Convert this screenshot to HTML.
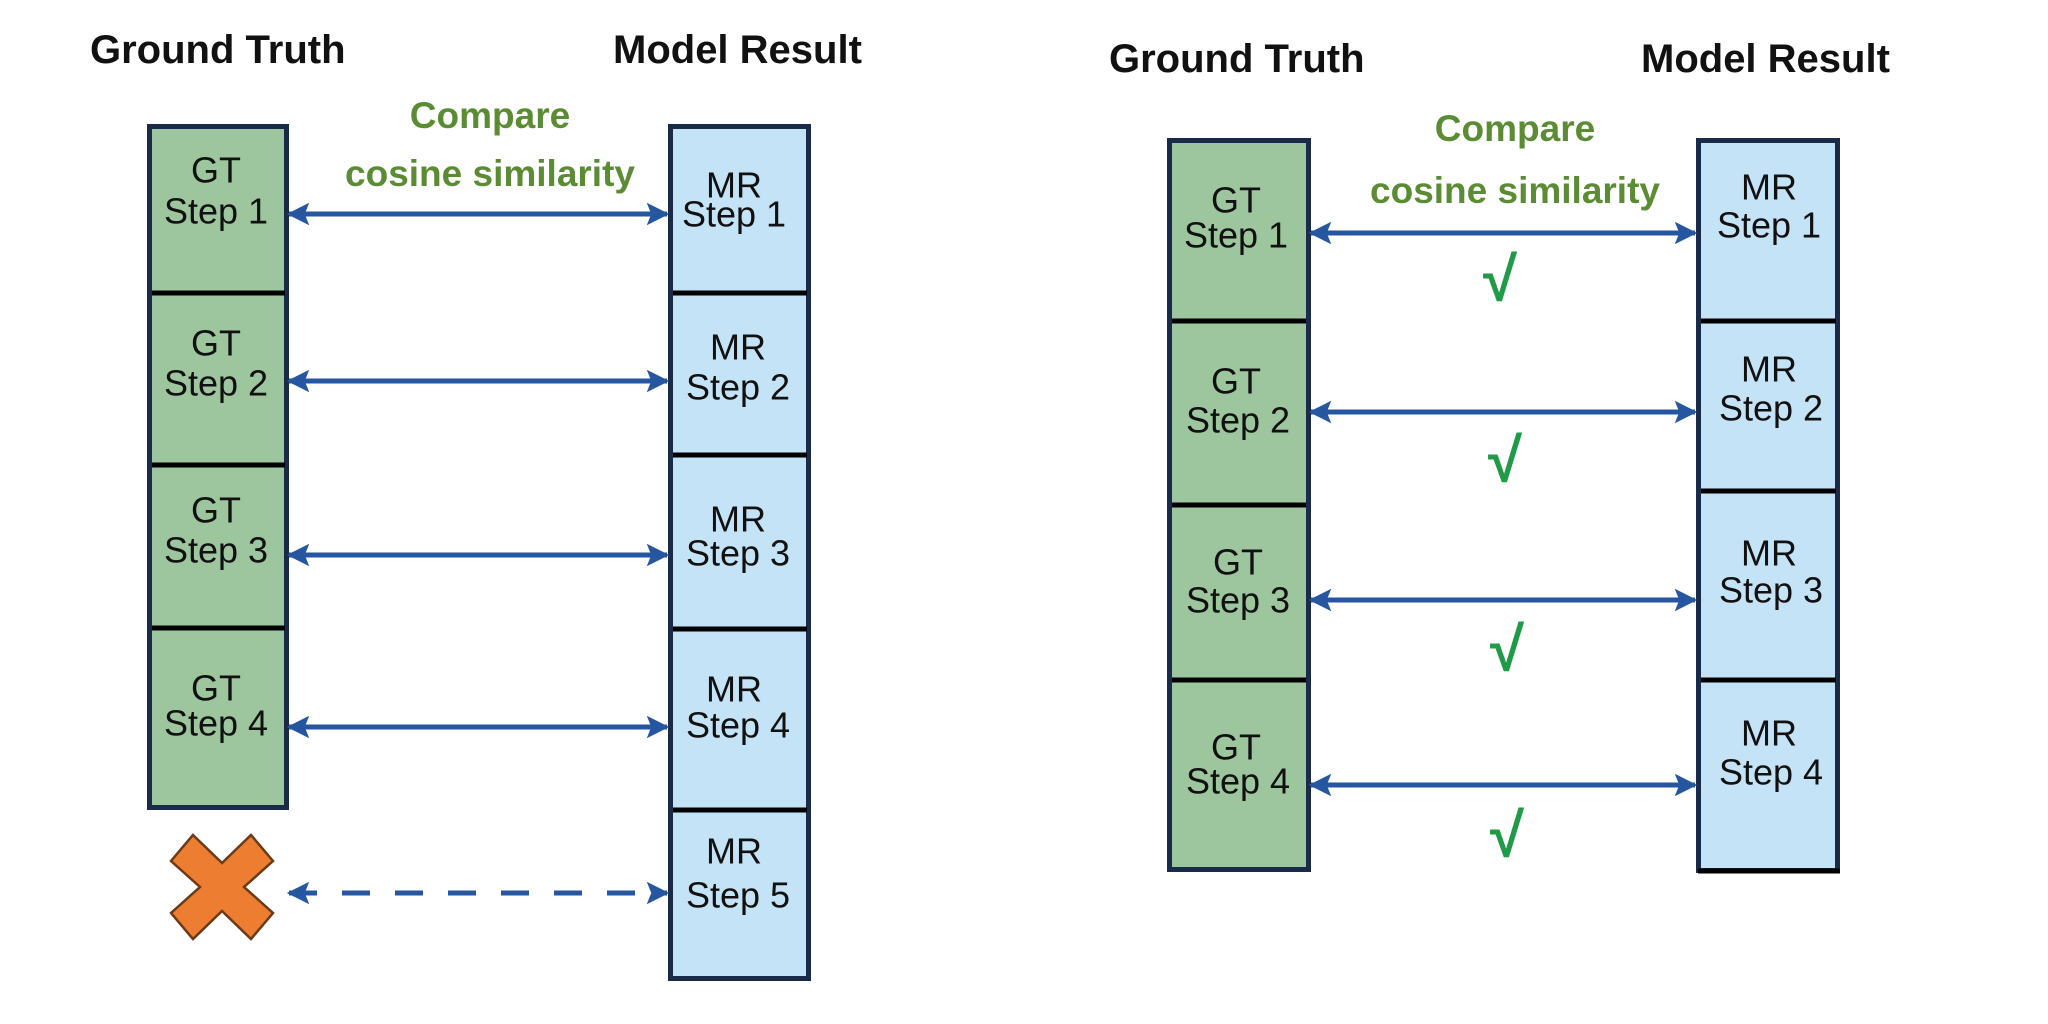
<!DOCTYPE html>
<html><head><meta charset="utf-8"><style>
html,body{margin:0;padding:0;background:#fff;}
svg{display:block;}
text{font-family:"Liberation Sans",sans-serif;}
.t{font-weight:bold;font-size:40px;fill:#111;}
.c{font-weight:bold;font-size:37px;fill:#5b8c34;text-anchor:middle;}
.s{font-size:36px;fill:#111;text-anchor:middle;dominant-baseline:central;}
.ck{font-weight:bold;font-size:62px;fill:#1f9a46;text-anchor:middle;dominant-baseline:central;}
</style></head><body>
<svg width="2048" height="1024" viewBox="0 0 2048 1024" xmlns="http://www.w3.org/2000/svg">
<defs>
<marker id="a" viewBox="0 0 10 10" refX="9" refY="5" markerWidth="4.5" markerHeight="4.5" orient="auto-start-reverse" markerUnits="strokeWidth">
<path d="M0,0 L10,5 L0,10 L2,5 z" fill="#2756a0"/></marker>
</defs>
<!-- LEFT PANEL -->
<text class="t" x="90" y="63">Ground Truth</text>
<text class="t" x="613" y="63">Model Result</text>
<text class="c" x="490" y="128">Compare</text>
<text class="c" x="490" y="186">cosine similarity</text>
<rect x="149.5" y="126.5" width="137" height="681" fill="#9dc59e" stroke="#1a2b4a" stroke-width="5"/>
<g stroke="#000" stroke-width="5"><line x1="152" y1="293" x2="285" y2="293"/><line x1="152" y1="465" x2="285" y2="465"/><line x1="152" y1="628" x2="285" y2="628"/></g>
<rect x="670.5" y="126.5" width="138" height="852" fill="#c5e3f6" stroke="#1a2b4a" stroke-width="5"/>
<g stroke="#000" stroke-width="5"><line x1="673" y1="293" x2="807" y2="293"/><line x1="673" y1="455" x2="807" y2="455"/><line x1="673" y1="629" x2="807" y2="629"/><line x1="673" y1="810" x2="807" y2="810"/></g>
<g>
<text class="s" x="216" y="170">GT</text><text class="s" x="216" y="211">Step 1</text>
<text class="s" x="216" y="343">GT</text><text class="s" x="216" y="383">Step 2</text>
<text class="s" x="216" y="510">GT</text><text class="s" x="216" y="550">Step 3</text>
<text class="s" x="216" y="688">GT</text><text class="s" x="216" y="723">Step 4</text>
<text class="s" x="734" y="185">MR</text><text class="s" x="734" y="214">Step 1</text>
<text class="s" x="738" y="347">MR</text><text class="s" x="738" y="387">Step 2</text>
<text class="s" x="738" y="519">MR</text><text class="s" x="738" y="553">Step 3</text>
<text class="s" x="734" y="689">MR</text><text class="s" x="738" y="725">Step 4</text>
<text class="s" x="734" y="851">MR</text><text class="s" x="738" y="895">Step 5</text>
</g>
<g stroke="#2756a0" stroke-width="5" fill="none">
<line x1="289" y1="214" x2="667" y2="214" marker-start="url(#a)" marker-end="url(#a)"/>
<line x1="289" y1="381" x2="667" y2="381" marker-start="url(#a)" marker-end="url(#a)"/>
<line x1="289" y1="555" x2="667" y2="555" marker-start="url(#a)" marker-end="url(#a)"/>
<line x1="289" y1="727" x2="667" y2="727" marker-start="url(#a)" marker-end="url(#a)"/>
<line x1="289" y1="893" x2="667" y2="893" stroke-dasharray="28,25" marker-start="url(#a)" marker-end="url(#a)"/>
</g>
<polygon transform="translate(222,887)" points="-29,-52 0,-24 29,-52 51,-26 22,0 51,26 29,52 0,24 -29,52 -51,26 -22,0 -51,-26" fill="#ed7d31" stroke="#6b3a16" stroke-width="2.5"/>
<!-- RIGHT PANEL -->
<text class="t" x="1109" y="72">Ground Truth</text>
<text class="t" x="1641" y="72">Model Result</text>
<text class="c" x="1515" y="141">Compare</text>
<text class="c" x="1515" y="203">cosine similarity</text>
<rect x="1169.5" y="140.5" width="139" height="729" fill="#9dc59e" stroke="#1a2b4a" stroke-width="5"/>
<g stroke="#000" stroke-width="5"><line x1="1172" y1="321" x2="1306" y2="321"/><line x1="1172" y1="505" x2="1306" y2="505"/><line x1="1172" y1="680" x2="1306" y2="680"/></g>
<rect x="1698.5" y="140.5" width="139" height="730" fill="#c5e3f6" stroke="#1a2b4a" stroke-width="5"/>
<g stroke="#000" stroke-width="5"><line x1="1701" y1="321" x2="1836" y2="321"/><line x1="1701" y1="491" x2="1836" y2="491"/><line x1="1701" y1="680" x2="1836" y2="680"/><line x1="1698" y1="871" x2="1840" y2="871"/></g>
<g>
<text class="s" x="1236" y="200">GT</text><text class="s" x="1236" y="235">Step 1</text>
<text class="s" x="1236" y="381">GT</text><text class="s" x="1238" y="420">Step 2</text>
<text class="s" x="1238" y="562">GT</text><text class="s" x="1238" y="600">Step 3</text>
<text class="s" x="1236" y="747">GT</text><text class="s" x="1238" y="781">Step 4</text>
<text class="s" x="1769" y="187">MR</text><text class="s" x="1769" y="225">Step 1</text>
<text class="s" x="1769" y="369">MR</text><text class="s" x="1771" y="408">Step 2</text>
<text class="s" x="1769" y="553">MR</text><text class="s" x="1771" y="590">Step 3</text>
<text class="s" x="1769" y="733">MR</text><text class="s" x="1771" y="772">Step 4</text>
</g>
<g stroke="#2756a0" stroke-width="5" fill="none">
<line x1="1311" y1="233" x2="1695" y2="233" marker-start="url(#a)" marker-end="url(#a)"/>
<line x1="1311" y1="412" x2="1695" y2="412" marker-start="url(#a)" marker-end="url(#a)"/>
<line x1="1311" y1="600" x2="1695" y2="600" marker-start="url(#a)" marker-end="url(#a)"/>
<line x1="1311" y1="785" x2="1695" y2="785" marker-start="url(#a)" marker-end="url(#a)"/>
</g>
<text class="ck" x="1500" y="280">√</text>
<text class="ck" x="1505" y="461">√</text>
<text class="ck" x="1507" y="650">√</text>
<text class="ck" x="1507" y="836">√</text>
</svg>
</body></html>
